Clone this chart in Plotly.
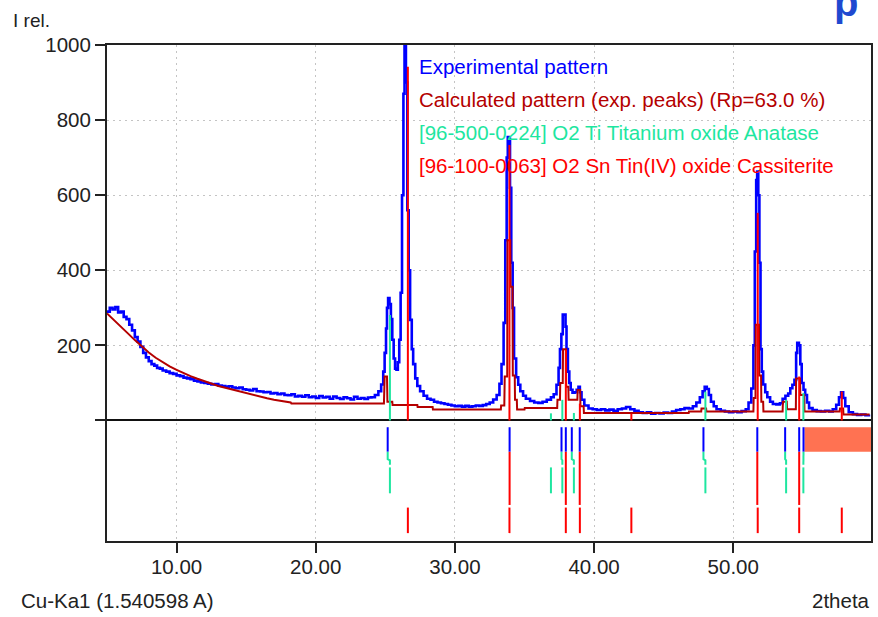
import plotly.graph_objects as go

# ---------------- data ----------------
# Experimental pattern (2theta, I rel.)
exp_x = [5.0, 5.2, 5.4, 5.6, 5.8, 6.0, 6.2, 6.4, 6.6, 6.8, 7.0, 7.2, 7.4, 7.6, 7.8, 8.0, 8.2, 8.4, 8.6, 8.8,
         9.0, 9.25, 9.5, 9.75, 10.0, 10.25, 10.5, 10.75, 11.0, 11.25, 11.5, 11.75, 12.0, 12.25, 12.5, 12.75,
         13.0, 13.25, 13.5, 13.75, 14.0, 14.25, 14.5, 14.75, 15.0, 15.25, 15.5, 15.75, 16.0, 16.25, 16.5,
         16.75, 17.0, 17.25, 17.5, 17.75, 18.0, 18.25, 18.5, 18.75, 19.0, 19.25, 19.5, 19.75, 20.0, 20.25,
         20.5, 20.75, 21.0, 21.25, 21.5, 21.75, 22.0, 22.25, 22.5, 22.75, 23.0, 23.25, 23.5, 23.75, 24.0,
         24.25, 24.5, 24.7, 24.85, 24.95, 25.05, 25.12, 25.2, 25.3, 25.4, 25.5, 25.6, 25.7, 25.8, 25.9, 26.0,
         26.1, 26.2, 26.3, 26.38, 26.48, 26.58, 26.68, 26.78, 26.9, 27.0, 27.15, 27.3, 27.5, 27.75, 28.0,
         28.25, 28.5, 28.75, 29.0, 29.25, 29.5, 29.75, 30.0, 30.25, 30.5, 30.75, 31.0, 31.25, 31.5, 31.75,
         32.0, 32.25, 32.5, 32.75, 33.0, 33.2, 33.35, 33.5, 33.62, 33.72, 33.8, 33.88, 33.96, 34.05, 34.15,
         34.25, 34.4, 34.55, 34.7, 34.9, 35.1, 35.4, 35.7, 36.0, 36.3, 36.6, 36.9, 37.1, 37.3, 37.45, 37.55,
         37.65, 37.75, 37.85, 37.95, 38.02, 38.12, 38.22, 38.32, 38.45, 38.6, 38.75, 38.88, 38.98, 39.1,
         39.3, 39.6, 39.9, 40.2, 40.5, 40.8, 41.1, 41.4, 41.7, 42.0, 42.3, 42.6, 42.9, 43.2, 43.5, 43.8,
         44.1, 44.4, 44.7, 45.0, 45.3, 45.6, 45.9, 46.2, 46.5, 46.8, 47.1, 47.35, 47.6, 47.8, 47.95, 48.1,
         48.25, 48.4, 48.6, 48.8, 49.1, 49.4, 49.7, 50.0, 50.3, 50.6, 50.9, 51.1, 51.3, 51.45, 51.55, 51.65,
         51.72, 51.8, 51.88, 51.96, 52.05, 52.15, 52.3, 52.45, 52.65, 52.85, 53.1, 53.35, 53.55, 53.75,
         53.95, 54.1, 54.25, 54.4, 54.52, 54.6, 54.72, 54.82, 54.92, 55.05, 55.17, 55.3, 55.45, 55.7, 56.0,
         56.3, 56.6, 56.9, 57.15, 57.4, 57.6, 57.75, 57.9, 58.05, 58.3, 58.6, 58.9, 59.2, 59.5, 59.75]
exp_y = [290, 300, 296, 302, 288, 290, 276, 270, 255, 240, 222, 210, 196, 180, 168, 158, 150, 146, 140, 138,
         133, 130, 126, 124, 120, 118, 114, 112, 110, 106, 104, 101, 100, 98, 96, 97,
         93, 92, 90, 91, 88, 86, 88, 83, 82, 80, 84, 78, 77, 75, 76,
         72, 73, 70, 72, 68, 67, 70, 64, 66, 63, 67, 62, 64, 60, 65,
         61, 63, 58, 64, 60, 57, 62, 59, 56, 63, 58, 60, 57, 61, 62,
         68, 78, 96, 130, 180, 245, 300, 326, 310, 270, 215, 165, 138, 135, 155, 215,
         340, 600, 870, 1000, 900, 560, 400, 268, 190, 150, 112, 92, 78, 66, 58,
         55, 50, 48, 46, 44, 42, 40, 38, 39, 37, 39, 37, 38, 40, 39,
         41, 44, 48, 56, 68, 98, 150, 260, 480, 700, 755, 750, 620, 420, 300,
         165, 115, 95, 78, 66, 58, 52, 48, 47, 50, 55, 62, 70, 95, 140, 190,
         230, 282, 282, 250, 190, 130, 100, 82, 74, 75, 82, 90, 75, 55,
         40, 32, 30, 28, 30, 27, 29, 26, 30, 32, 36, 30, 26, 22, 20, 22,
         18, 20, 19, 21, 20, 24, 28, 30, 33, 32, 38, 48, 62, 78, 90, 84,
         68, 50, 38, 30, 26, 24, 22, 24, 22, 25, 30, 48, 85, 200, 450, 640,
         663, 600, 420, 190, 130, 96, 75, 62, 50, 44, 43, 46, 58, 66,
         72, 86, 95, 108, 180, 207, 200, 150, 100, 82, 68, 48, 33, 28, 25,
         24, 26, 24, 30, 42, 62, 75, 60, 38, 22, 17, 15, 16, 14, 16]

# Calculated pattern (exp. peaks)
calc_x = [5.0, 5.5, 6.0, 6.5, 7.0, 7.5, 8.0, 8.5, 9.0, 9.5, 10.0, 10.5, 11.0, 11.5, 12.0, 12.5, 13.0, 13.5,
          14.0, 14.5, 15.0, 15.5, 16.0, 16.5, 17.0, 17.5, 18.0, 18.2, 18.25, 24.9, 24.95, 25.12, 25.15,
          25.5, 25.52, 27.3, 27.32, 28.4, 28.42, 33.3, 33.32, 33.55, 33.58, 33.76, 33.78, 33.98, 34.0,
          34.14, 34.16, 34.3, 34.32, 34.45, 34.47, 35.0, 35.02, 37.35, 37.37, 37.55, 37.57, 37.75, 37.77,
          37.98, 38.0, 38.15, 38.17, 38.8, 38.82, 39.0, 39.02, 39.25, 39.27, 46.8, 46.82, 47.7, 47.72,
          48.05, 48.07, 51.45, 51.47, 51.6, 51.62, 51.85, 51.87, 52.0, 52.02, 52.15, 52.17, 53.55, 53.57,
          53.85, 53.87, 54.5, 54.52, 54.8, 54.82, 55.1, 55.12, 57.65, 57.67, 57.9, 57.92, 59.8]
calc_y = [285, 268, 250, 232, 214, 197, 181, 167, 155, 144, 135, 126, 118, 111, 104, 98, 92, 87,
          82, 77, 72, 67, 63, 59, 55, 52, 49, 48, 45, 45, 117, 117, 50,
          50, 41, 41, 36, 36, 29, 29, 40, 40, 117, 117, 480, 480, 356,
          356, 120, 120, 55, 55, 29, 29, 33, 33, 55, 55, 100, 100, 190,
          190, 90, 90, 55, 55, 81, 81, 38, 38, 20, 20, 24, 24, 32,
          32, 24, 24, 60, 60, 255, 255, 120, 120, 50, 50, 24, 24, 50,
          50, 30, 30, 112, 112, 68, 68, 24, 24, 32, 32, 16, 16]

# Reference phases
anatase_pos = [25.33, 36.90, 37.72, 38.55, 48.00, 53.80, 55.04]
anatase_int = [281, 19, 55, 20, 77, 55, 73]
cassit_pos = [26.62, 33.92, 37.97, 38.98, 42.68, 51.76, 54.74, 57.80]
cassit_int = [942, 734, 188, 45, 18, 553, 117, 77]

# Experimental peak list and the phase each one was matched to
peak_pos = [25.17, 33.93, 37.66, 37.97, 38.40, 38.97, 47.86, 51.73, 53.73, 54.74, 55.05]
peak_match = ["A", "C", "A", "C", "A", "C", "A", "C", "A", "C", "A"]
match_pos = [25.33, 33.92, 37.72, 37.97, 38.55, 38.98, 48.00, 51.76, 53.80, 54.74, 55.04]

excluded = [55.12, 59.9]
x_range = [5.0, 59.9]
y_range = [-321, 1000]

x_ticks = [10, 20, 30, 40, 50]
x_ticktext = ["10.00", "20.00", "30.00", "40.00", "50.00"]
y_ticks = [0, 200, 400, 600, 800, 1000]
y_ticktext = ["", "200", "400", "600", "800", "1000"]

# ---------------- styles ----------------
BLUE = "#0000ff"
DARKRED = "#b40000"
GREEN = "#1ee6a0"
RED = "#ff0000"
ORANGE = "#ff7252"
FONT = "Liberation Sans, Arial, sans-serif"
FS = 20.5

# lower panel rows (in y data units)
ROW_PEAK = (-18, -83)
ROW_A = (-125, -194)
ROW_C = (-232, -300)


def sticks(xs, y0s, y1s):
    X, Y = [], []
    for x, a, b in zip(xs, y0s, y1s):
        X += [x, x, None]
        Y += [a, b, None]
    return X, Y


fig = go.Figure()

# excluded region
fig.add_trace(go.Scatter(x=[excluded[0], excluded[1], excluded[1], excluded[0], excluded[0]],
                         y=[ROW_PEAK[0], ROW_PEAK[0], ROW_PEAK[1], ROW_PEAK[1], ROW_PEAK[0]],
                         mode="lines", fill="toself", fillcolor=ORANGE, line=dict(width=0, color=ORANGE),
                         hoverinfo="skip", showlegend=False))

# match connectors
for col, key in ((GREEN, "A"), (RED, "C")):
    X, Y = [], []
    for p, m, mp in zip(peak_pos, peak_match, match_pos):
        if m != key:
            continue
        if key == "A":
            X += [p, p, mp, mp, None]
            Y += [ROW_PEAK[1], -103, -106, -118, None]
        else:
            X += [p, p, None]
            Y += [ROW_PEAK[1], -225, None]
    fig.add_trace(go.Scatter(x=X, y=Y, mode="lines", line=dict(color=col, width=2),
                             hoverinfo="skip", showlegend=False))

# experimental peak sticks
X, Y = sticks(peak_pos, [ROW_PEAK[0]] * len(peak_pos), [ROW_PEAK[1]] * len(peak_pos))
fig.add_trace(go.Scatter(x=X, y=Y, mode="lines", line=dict(color=BLUE, width=2),
                         hoverinfo="skip", showlegend=False))
# phase rows
X, Y = sticks(anatase_pos, [ROW_A[0]] * len(anatase_pos), [ROW_A[1]] * len(anatase_pos))
fig.add_trace(go.Scatter(x=X, y=Y, mode="lines", line=dict(color=GREEN, width=2),
                         hoverinfo="skip", showlegend=False))
X, Y = sticks(cassit_pos, [ROW_C[0]] * len(cassit_pos), [ROW_C[1]] * len(cassit_pos))
fig.add_trace(go.Scatter(x=X, y=Y, mode="lines", line=dict(color=RED, width=2),
                         hoverinfo="skip", showlegend=False))

# patterns
fig.add_trace(go.Scatter(x=exp_x, y=exp_y, mode="lines", line=dict(color=BLUE, width=2.6, shape="hv"),
                         name="Experimental pattern", showlegend=False))
fig.add_trace(go.Scatter(x=calc_x, y=calc_y, mode="lines", line=dict(color=DARKRED, width=2),
                         name="Calculated pattern", showlegend=False))

# phase sticks in upper plot
X, Y = sticks(anatase_pos, [0] * len(anatase_pos), anatase_int)
fig.add_trace(go.Scatter(x=X, y=Y, mode="lines", line=dict(color=GREEN, width=2),
                         hoverinfo="skip", showlegend=False))
X, Y = sticks(cassit_pos, [0] * len(cassit_pos), cassit_int)
fig.add_trace(go.Scatter(x=X, y=Y, mode="lines", line=dict(color=RED, width=2),
                         hoverinfo="skip", showlegend=False))

L, R, T, B = 107, 5, 45, 76
W, H = 878, 617
PW, PH = W - L - R, H - T - B


def px(xp):
    return (xp - L) / PW


def py(yp):
    return (H - B - yp) / PH


ann = []
legend_items = [("Experimental pattern", BLUE, 66),
                ("Calculated pattern (exp. peaks) (Rp=63.0 %)", DARKRED, 99),
                ("[96-500-0224] O2 Ti Titanium oxide Anatase", GREEN, 132),
                ("[96-100-0063] O2 Sn Tin(IV) oxide Cassiterite", RED, 165)]
for txt, col, yc in legend_items:
    ann.append(dict(text=txt, x=px(418), y=py(yc), xref="paper", yref="paper", xanchor="left",
                    yanchor="middle", showarrow=False, font=dict(family=FONT, size=FS, color=col)))
ann.append(dict(text="I rel.", x=px(11), y=py(20), xref="paper", yref="paper", xanchor="left",
                yanchor="middle", showarrow=False, font=dict(family=FONT, size=19, color="#222")))
ann.append(dict(text="Cu-Ka1 (1.540598 A)", x=px(19), y=py(600), xref="paper", yref="paper",
                xanchor="left", yanchor="middle", showarrow=False, font=dict(family=FONT, size=FS, color="#222")))
ann.append(dict(text="2theta", x=px(874), y=py(600), xref="paper", yref="paper",
                xanchor="right", yanchor="middle", showarrow=False, font=dict(family=FONT, size=FS, color="#222")))
ann.append(dict(text="<b>p</b>", x=px(848), y=py(2), xref="paper", yref="paper",
                xanchor="center", yanchor="middle", showarrow=False,
                font=dict(family=FONT, size=40, color="#1f49d0")))

axis_common = dict(showline=True, mirror=True, linecolor="#222", linewidth=2,
                   ticks="outside", ticklen=10, tickwidth=2, tickcolor="#222",
                   showgrid=True, gridcolor="#c4c4c4", griddash="2px,4px", gridwidth=1,
                   tickfont=dict(family=FONT, size=FS, color="#222"))

fig.update_layout(
    width=W, height=H,
    margin=dict(l=L, r=R, t=T, b=B, pad=0),
    plot_bgcolor="white", paper_bgcolor="white",
    showlegend=False,
    xaxis=dict(range=x_range, tickmode="array", tickvals=x_ticks, ticktext=x_ticktext,
               zeroline=False, ticklabelstandoff=-4, **axis_common),
    yaxis=dict(range=y_range, tickmode="array", tickvals=y_ticks, ticktext=y_ticktext,
               zeroline=True, zerolinecolor="#111", zerolinewidth=2, **axis_common),
    annotations=ann,
)

fig.write_html("out.html")
